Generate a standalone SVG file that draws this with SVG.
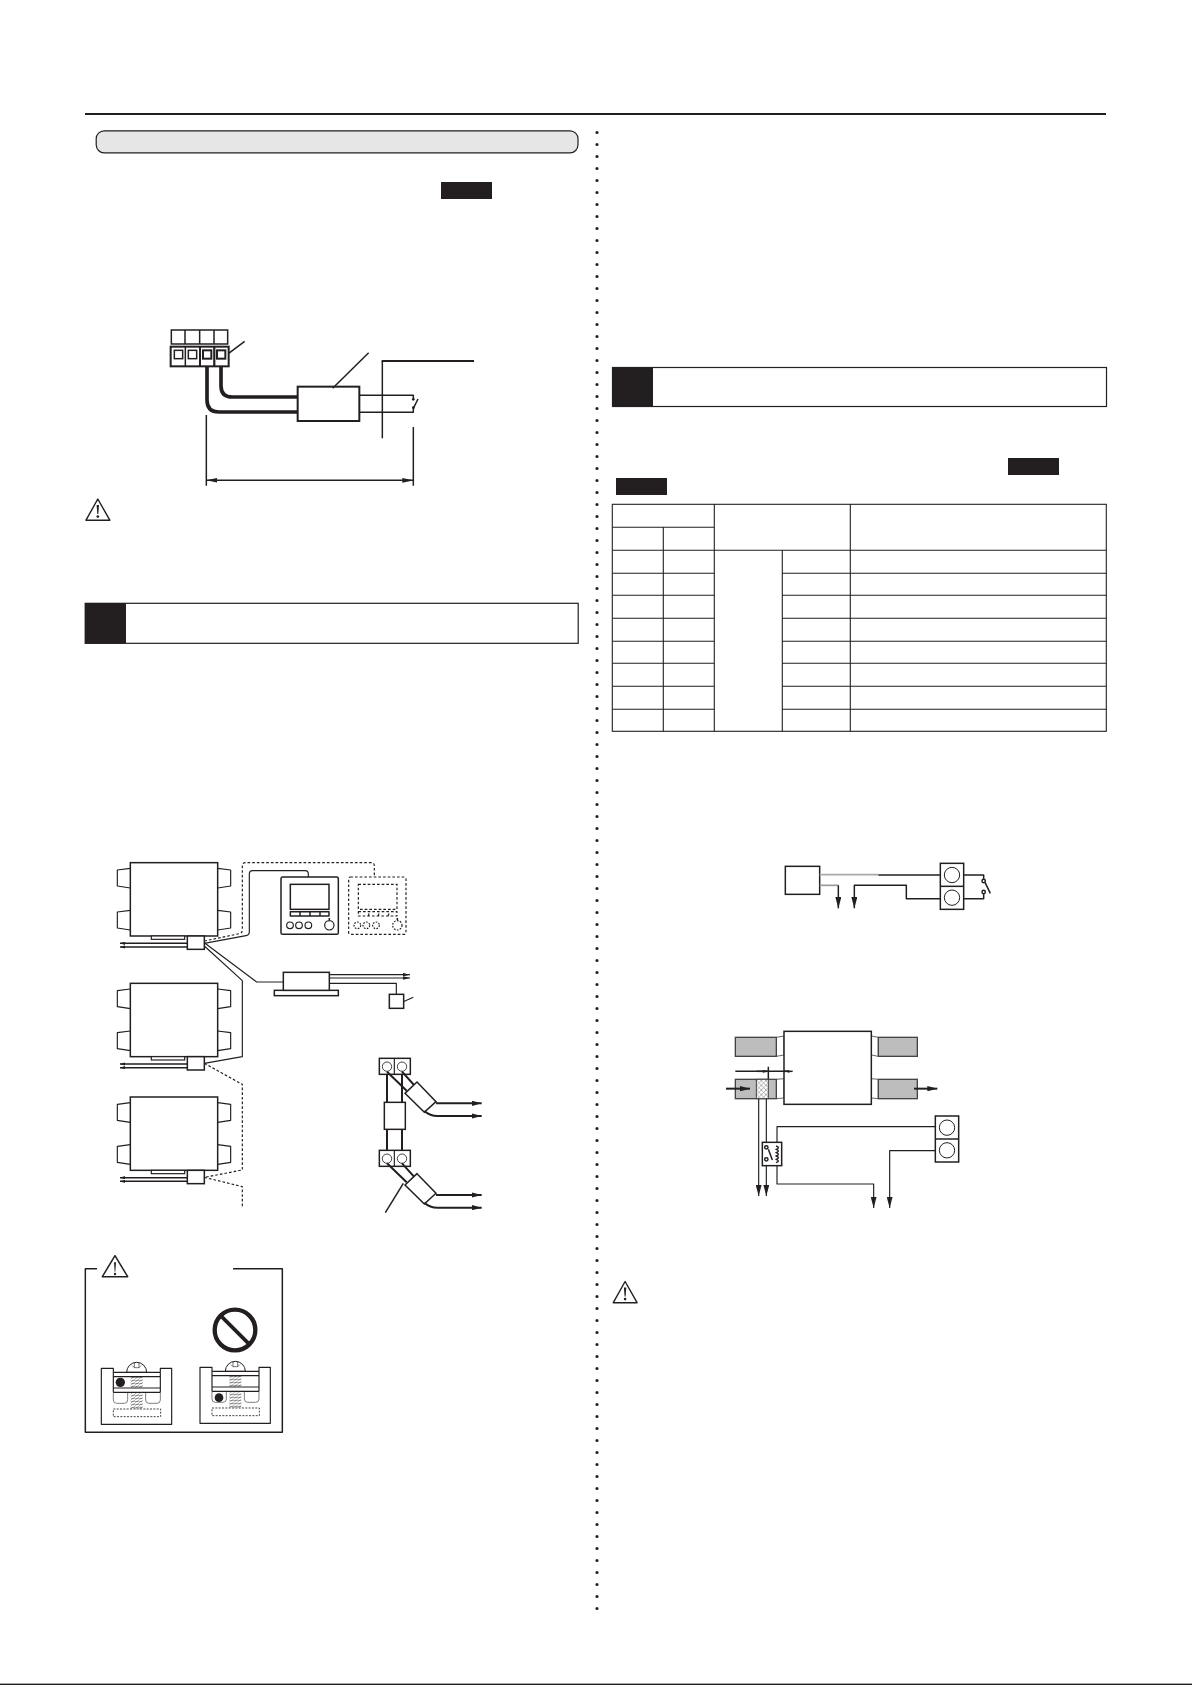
<svg xmlns="http://www.w3.org/2000/svg" xmlns:xlink="http://www.w3.org/1999/xlink" width="1192" height="1685" viewBox="0 0 1192 1685">
<style>
.k{fill:#231f20;stroke:none}
.n{fill:none;stroke:#231f20;stroke-linejoin:round}
.w{fill:#fff;stroke:#231f20}
.t1{stroke-width:3.5}
.t2{stroke-width:4.5}
.t3{stroke-width:6}
.t4{stroke-width:11}
.d{stroke-dasharray:8 6}
.g{fill:#bdbdbd;stroke:#444;stroke-width:4}
</style>
<defs>
<marker id="dim" markerUnits="userSpaceOnUse" viewBox="0 0 33 14" refX="33" refY="7" markerWidth="33" markerHeight="14" orient="auto-start-reverse"><path d="M0 0L33 7L0 14z" fill="#231f20"/></marker>
<marker id="sm" markerUnits="userSpaceOnUse" viewBox="0 0 16 10" refX="16" refY="5" markerWidth="16" markerHeight="10" orient="auto"><path d="M0 0L16 5L0 10z" fill="#231f20"/></marker>
<marker id="md" markerUnits="userSpaceOnUse" viewBox="0 0 22 11" refX="22" refY="5.5" markerWidth="22" markerHeight="11" orient="auto"><path d="M0 0L22 5.5L0 11z" fill="#231f20"/></marker>
<marker id="lg" markerUnits="userSpaceOnUse" viewBox="0 0 30 16" refX="30" refY="8" markerWidth="30" markerHeight="16" orient="auto"><path d="M0 0L30 8L0 16z" fill="#231f20"/></marker>
<marker id="tall" markerUnits="userSpaceOnUse" viewBox="0 0 34 18" refX="34" refY="9" markerWidth="34" markerHeight="18" orient="auto"><path d="M0 0L34 9L0 18z" fill="#231f20"/></marker>
<marker id="tiny" markerUnits="userSpaceOnUse" viewBox="0 0 18 10" refX="18" refY="5" markerWidth="18" markerHeight="10" orient="auto"><path d="M0 0L18 5L0 10L5 5z" fill="#231f20"/></marker>
<pattern id="cross" patternUnits="userSpaceOnUse" width="14" height="14"><rect width="14" height="14" fill="#fff"/><path d="M0 0L14 14M14 0L0 14" stroke="#888" stroke-width="2"/></pattern>
<pattern id="thread" patternUnits="userSpaceOnUse" width="12" height="9"><rect width="12" height="9" fill="#fff"/><path d="M-1 7L13 2" stroke="#444" stroke-width="2.4"/></pattern>
<g id="warn"><path class="n" stroke-width="1.4" d="M12.5 1L24.5 22.2L.7 22.2Z"/><path class="k" d="M11.3 7H13.7L13 16H12Z"/><circle class="k" cx="12.5" cy="18.6" r="1.3"/></g>
<g id="vent">
<rect class="w t2" x="0" y="0" width="262" height="220"/>
<path class="n t1" d="M0 17L-39 22V70L0 76M0 143L-39 148V196L0 202M262 17L301 22V70L262 76M262 143L301 148V196L262 202"/>
<rect class="w t1" x="63" y="220" width="100" height="10"/>
<path class="n t2" marker-end="url(#sm)" d="M171 242H-31"/><path class="n t2" marker-end="url(#sm)" d="M171 253H-31"/>
<rect class="w t2" x="171" y="220" width="51" height="40"/>
</g>
<g id="term-h"><rect class="w t2" x="0" y="0" width="93" height="48"/><path class="n t1" d="M45 0V48"/><circle class="w" stroke-width="2.5" cx="23" cy="25" r="14"/><circle class="w" stroke-width="2.5" cx="68" cy="25" r="14"/></g>
<g id="term-v"><rect class="w t2" x="0" y="0" width="70" height="138"/><path class="n t2" d="M0 69H70"/><circle class="w" stroke-width="3" cx="35" cy="35" r="23"/><circle class="w" stroke-width="3" cx="35" cy="103" r="23"/></g>
<g id="shield"><path class="n t3" d="M23 40L82 97M68 40L104 80"/><path class="w t2" d="M113 71L170 130L135 162L77 105Z"/><path class="n t3" marker-end="url(#lg)" d="M170 135H307"/><path class="n t3" marker-end="url(#lg)" d="M135 158C146 168 155 173 175 173H307"/></g>
<g id="clamp">
<path class="n" stroke-width="3.5" d="M115 367V355H79V523H290V355H256V367"/>
<path class="w" stroke-width="3" d="M155 367A30 30 0 0 1 215 367Z"/><path class="n" stroke-width="1.8" d="M172 347L178 353H192L198 347M178 338V353M192 338V353"/>
<path fill="none" stroke="#666" stroke-width="2.5" d="M115 427V450Q115 460 125 460H148Q158 460 158 450V427M212 427V450Q212 460 222 460H246Q256 460 256 450V427"/>
<rect x="167" y="380" width="36" height="34" fill="url(#thread)"/><rect x="167" y="427" width="36" height="50" fill="url(#thread)"/>
<path class="n" stroke-width="3.5" d="M115 367H256M115 380H256M115 414H256M115 427H256M115 367V427M256 367V427"/>
<rect class="n" stroke-width="2.5" stroke-dasharray="6 4" x="115" y="477" width="142" height="23"/>
</g>
</defs>

<g id="page-frame">
<path class="n" stroke-width="2" d="M85 114H1106"/>
<rect x="96.2" y="130.8" width="481.8" height="22" rx="8" fill="#e6e6e6" stroke="#231f20" stroke-width="1.2"/>
<path fill="none" stroke="#231f20" stroke-width="3.2" stroke-linecap="round" stroke-dasharray="0 12" d="M597 132.5V1610"/>
<rect class="k" x="441" y="182" width="51" height="17"/>
<rect class="k" x="1008" y="458" width="51" height="17"/>
<rect class="k" x="616" y="478" width="51" height="17"/>
<rect class="k" x="0" y="1683.6" width="1192" height="1.4"/>
</g>

<g id="section-1"><rect class="w" stroke-width="1.2" x="85.2" y="603.3" width="493" height="40"/><rect class="k" x="85" y="603" width="41" height="40.6"/></g>
<g id="section-2"><rect class="w" stroke-width="1.2" x="612.5" y="367.5" width="494" height="39"/><rect class="k" x="612" y="367" width="41" height="40"/></g>

<g id="warning-1"><use xlink:href="#warn" href="#warn" x="85.3" y="498"/></g>
<g id="warning-3"><use xlink:href="#warn" href="#warn" x="612.6" y="1280.5"/></g>

<g id="table-1" fill="none" stroke="#231f20" stroke-width="1.1">
<rect x="612.3" y="504.3" width="494" height="227"/>
<path d="M714.3 504.3V731.3M850.3 504.3V731.3M663.3 527.3V731.3M782.3 550.3V731.3M612.3 527.3H714.3M612.3 550.3H1106.3M612.3 573.3H714.3M782.3 573.3H1106.3M612.3 595.3H714.3M782.3 595.3H1106.3M612.3 618.3H714.3M782.3 618.3H1106.3M612.3 641.3H714.3M782.3 641.3H1106.3M612.3 663.3H714.3M782.3 663.3H1106.3M612.3 686.3H714.3M782.3 686.3H1106.3M612.3 709.3H714.3M782.3 709.3H1106.3"/>
</g>

<!-- connector terminal diagram -->
<g transform="translate(130 320) scale(.33333)">
<g id="connector-block">
<rect class="w t2" x="124" y="30" width="169" height="42"/><path class="n t2" d="M165 30V72M209 30V72M252 30V72"/>
<rect class="w t3" x="122" y="80" width="174" height="59"/><path class="n t2" d="M166 80V139M253 80V139"/><path class="n t3" d="M210 80V139M253 80V139"/>
<rect class="w t2" x="133" y="91" width="25" height="25"/><rect class="w t2" x="175" y="91" width="25" height="25"/><rect class="w t3" x="219" y="91" width="25" height="25"/><rect class="w t3" x="261" y="91" width="25" height="25"/>
</g>
<g id="relay-box"><rect class="w t3" x="503" y="200" width="185" height="103"/></g>
<g id="wires-a">
<path class="n t4" d="M231 140V240Q231 276 267 276H503"/>
<path class="n t4" d="M273 140V197Q273 231 307 231H503"/>
<path class="n t2" d="M296 100L344 64M608 205L716 98"/>
<path class="n t2" d="M688 226H850V236M688 277H850V264M850 265L864 237"/><circle class="k" cx="850" cy="238" r="4"/><circle class="k" cx="850" cy="263" r="4"/>
<path class="n t2" d="M757 355V123"/><path class="n t3" d="M755 123H1032"/>
<path class="n t2" d="M229 285V497M850 321V497"/>
<path class="n t2" marker-start="url(#dim)" marker-end="url(#dim)" d="M229 481H850"/>
</g>
</g>

<!-- system diagram -->
<g transform="translate(90 840) scale(.33333)">
<g id="connectors-system">
<path class="n t1 d" d="M343 303L448 281Q457 279 457 270V78Q457 68 467 68H843Q853 68 853 78V111"/>
<path class="n t1" d="M343 310L468 287Q478 285 478 275V102Q478 92 488 92H645Q655 92 655 102V111"/>
<path class="n t1" d="M343 308L500 426H580"/>
<path class="n t1" d="M343 318L457 422V650L343 670"/>
<path class="n t1 d" d="M343 670L457 733V990L343 1012"/>
<path class="n t1 d" d="M343 1012L457 1040V1100"/>
<path class="n t1" marker-end="url(#md)" d="M718 404H960"/><path class="n t1" marker-end="url(#md)" d="M718 414H960"/>
<path class="n t1" d="M718 430H919V463"/><path class="n t1" d="M930 490L970 472"/>
</g>
<g id="unit-1"><use xlink:href="#vent" href="#vent" x="121" y="68"/></g>
<g id="unit-2"><use xlink:href="#vent" href="#vent" x="121" y="430"/></g>
<g id="unit-3"><use xlink:href="#vent" href="#vent" x="121" y="771"/></g>
<g id="controller-1">
<rect class="w t2" x="573" y="111" width="172" height="172" rx="5"/>
<rect class="w t2" x="601" y="133" width="116" height="75"/>
<path class="n t2" d="M601 215H717V228H601ZM630 215V228M660 215V228M690 215V228"/>
<circle class="w t1" cx="600" cy="256" r="10"/><circle class="w t1" cx="627" cy="256" r="10"/><circle class="w t1" cx="655" cy="256" r="10"/><circle class="w t1" cx="718" cy="256" r="14"/><path class="n t2" d="M718 240V234"/>
</g>
<g id="controller-2">
<rect class="w t1 d" x="776" y="111" width="172" height="172" rx="5"/>
<rect class="w t1 d" x="805" y="133" width="116" height="75"/>
<path class="n t1 d" stroke-dasharray="6 4" d="M805 215H921V228H805ZM834 228L840 215M864 228L870 215M894 228L900 215"/>
<g stroke-dasharray="5 4"><circle class="w t1" cx="802" cy="256" r="10"/><circle class="w t1" cx="829" cy="256" r="10"/><circle class="w t1" cx="858" cy="256" r="10"/><circle class="w t1" cx="922" cy="256" r="14"/></g><path class="n t2" d="M922 240V234"/>
</g>
<g id="cassette">
<rect class="w t2" x="553" y="451" width="192" height="16"/>
<rect class="w t2" x="580" y="397" width="138" height="54"/>
</g>
<g id="sensor"><rect class="w t2" x="898" y="463" width="43" height="42"/></g>
</g>

<!-- terminal detail -->
<g transform="translate(340 1040) scale(.33333)">
<g id="connectors-terminal">
<path class="n t3" d="M141 95V331M186 95V331"/>
</g>
<g id="terminal-1"><use xlink:href="#term-h" href="#term-h" x="118" y="55"/></g>
<g id="terminal-2"><use xlink:href="#term-h" href="#term-h" x="118" y="331"/></g>
<g id="coupler"><rect class="w t2" x="133" y="187" width="63" height="81"/></g>
<g id="shield-1"><use xlink:href="#shield" href="#shield" x="118" y="55"/></g>
<g id="shield-2"><use xlink:href="#shield" href="#shield" x="118" y="330"/></g>
<path class="n t2" d="M190 430L136 518"/>
</g>

<!-- caution frame -->
<g transform="translate(75 1250) scale(.33333)">
<g id="caution-frame"><path class="n t2" d="M66 56H31V547H622V56H474"/></g>
<g id="caution-icon"><path class="n t2" d="M120 17L158 80H82Z"/><path class="k" d="M117 37H123L121 65H119Z"/><circle class="k" cx="120" cy="72" r="3.5"/></g>
<g id="prohibited"><circle class="n" stroke-width="13" cx="480" cy="240" r="61"/><path class="n" stroke-width="11" d="M440 200L521 281"/></g>
<g id="clamp-ok"><use xlink:href="#clamp" href="#clamp"/><circle class="k" cx="136" cy="397" r="14"/></g>
<g id="clamp-ng"><use xlink:href="#clamp" href="#clamp" x="296" y="-3"/><circle class="k" cx="432" cy="443" r="13"/></g>
</g>

<!-- external contact -->
<g transform="translate(760 850) scale(.33333)">
<g id="controller-box"><rect class="w t2" x="76" y="49" width="103" height="84"/></g>
<g id="terminal-contact"><use xlink:href="#term-v" href="#term-v" x="541" y="40"/></g>
<g id="connectors-contact">
<path fill="none" stroke="#aaa" stroke-width="5" d="M179 74H355"/>
<path class="n t2" d="M355 75H541"/>
<path fill="none" stroke="#999" stroke-width="5" d="M179 106H235"/>
<path class="n t2" marker-end="url(#tall)" d="M235 106V175"/>
<path class="n t2" marker-end="url(#tall)" d="M541 146H439V106H283V175"/>
<path class="n t2" d="M610 75H671V88M610 146H671V130M675 97L691 130"/>
<circle class="w t2" cx="671" cy="93" r="5"/><circle class="w t2" cx="671" cy="126" r="5"/>
</g>
</g>

<!-- duct interlock -->
<g transform="translate(710 1020) scale(.33333)">
<g id="duct-unit">
<path fill="#fff" stroke="#666" stroke-width="3" d="M222 48L199 52V109L222 105ZM222 176L199 178V236L222 234ZM484 48L505 52V109L484 105ZM484 176L505 178V236L484 234Z"/>
<rect class="w t2" x="222" y="34" width="262" height="219"/>
</g>
<g id="duct-1"><rect class="g" x="76" y="52" width="123" height="57"/></g>
<g id="duct-2"><rect class="g" x="505" y="52" width="117" height="57"/></g>
<g id="duct-3"><rect class="g" x="76" y="178" width="123" height="58"/><rect x="139" y="178" width="36" height="58" fill="url(#cross)" stroke="#444" stroke-width="3"/></g>
<g id="duct-4"><rect class="g" x="505" y="178" width="117" height="58"/></g>
<g id="relay"><rect class="w t2" x="157" y="367" width="58" height="70"/>
<circle class="w t2" cx="169" cy="382" r="5"/><circle class="w t2" cx="169" cy="418" r="5"/>
<path class="n t2" d="M175 388L187 420M198 378Q212 383 198 388Q212 393 198 398Q212 403 198 408Q212 413 198 418Q212 423 198 428"/></g>
<g id="terminal-duct"><use xlink:href="#term-v" href="#term-v" x="676" y="288"/></g>
<g id="connectors-duct">
<path class="n t2" d="M76 154H230M175 140V178"/>
<path class="n t2" marker-end="url(#tiny)" d="M140 154H175"/><path class="n t2" marker-end="url(#tiny)" d="M248 154H222"/>
<path class="n t3" marker-end="url(#lg)" d="M48 206H120"/><path class="n t3" marker-end="url(#lg)" d="M612 206H682"/>
<path class="n t1" marker-end="url(#tall)" d="M146 236V528"/>
<path class="n t1" d="M169 236V367"/><path class="n t1" marker-end="url(#tall)" d="M169 437V528"/>
<path class="n t1" d="M201 367V320H676"/>
<path class="n t1" marker-end="url(#tall)" d="M201 437V492H491V564"/>
<path class="n t1" marker-end="url(#tall)" d="M676 392H539V564"/>
</g>
</g>
</svg>
